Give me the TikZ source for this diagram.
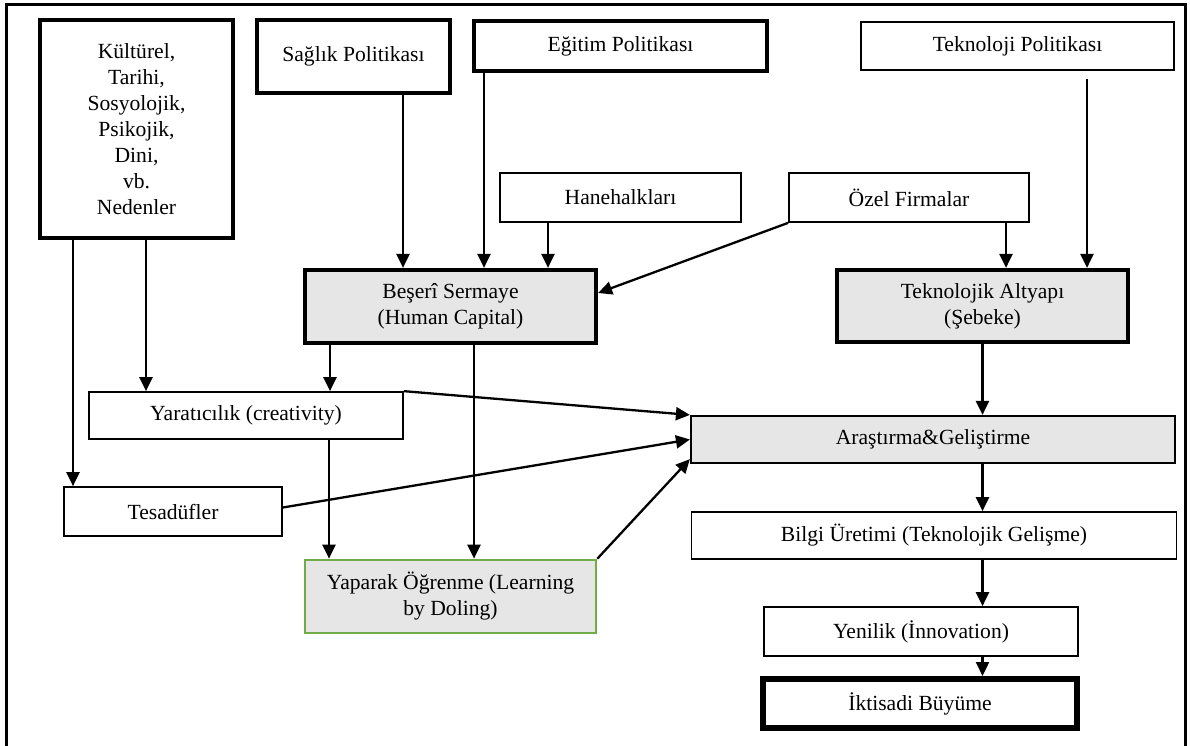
\documentclass[tikz,border=0pt]{standalone}
\usepackage{fontspec}
\setmainfont{Liberation Serif}
\usetikzlibrary{arrows.meta}
\definecolor{boxgray}{RGB}{231,230,230}
\definecolor{boxgreen}{RGB}{112,173,71}
\tikzset{
  box/.style={draw=black, inner sep=0pt, align=center, text=black,
    font=\fontsize{21.6}{26}\selectfont},
  thinbox/.style={box, line width=1.7pt},
  midbox/.style={box, line width=2.7pt},
  thickbox/.style={box, line width=4.2pt},
  heavybox/.style={box, line width=6pt},
  shaded/.style={fill=boxgray},
  arr/.style={line width=2.3pt, -{Triangle[length=14pt,width=13pt]}},
}
\begin{document}
\begin{tikzpicture}[x=1pt, y=-1pt]
\useasboundingbox (0,0) rectangle (1190,746);
% frame
\draw[line width=3pt] (6,760) -- (6,5) -- (1185,5) -- (1185,760);

% nodes
\node[thickbox, minimum width=193pt, minimum height=218pt] (kult) at (136.5,129)
  {Kültürel,\\Tarihi,\\Sosyolojik,\\Psikojik,\\Dini,\\vb.\\Nedenler};
\node[thickbox, minimum width=193pt, minimum height=73pt] (sag) at (353.5,56.5) {Sağlık Politikası};
\node[thickbox, minimum width=293pt, minimum height=50pt] (egi) at (620.5,46) {Eğitim Politikası};
\node[midbox, minimum width=313pt, minimum height=48pt] (tek) at (1017.5,46) {Teknoloji Politikası};
\node[thinbox, minimum width=241pt, minimum height=49pt] (hane) at (620.5,197.5) {Hanehalkları};
\node[thinbox, minimum width=240pt, minimum height=49pt] (ozel) at (909,197.5) {Özel Firmalar};
\node[thickbox, shaded, minimum width=291pt, minimum height=73pt] (bes) at (450.5,306.5)
  {Beşerî Sermaye\\(Human Capital)};
\node[thickbox, shaded, minimum width=291pt, minimum height=72pt] (alt) at (982.5,306)
  {Teknolojik Altyapı\\(Şebeke)};
\node[thinbox, minimum width=314pt, minimum height=47pt] (yar) at (246,415.5) {Yaratıcılık (creativity)};
\node[box, line width=2.2pt, shaded, minimum width=484pt, minimum height=47pt] (arge) at (933,439.5) {Araştırma\&Geliştirme};
\node[thinbox, minimum width=218pt, minimum height=49pt] (tes) at (173,511.5) {Tesadüfler};
\node[thinbox, minimum width=485pt, minimum height=47pt] (bil) at (934,535.5) {Bilgi Üretimi (Teknolojik Gelişme)};
\node[midbox, draw=boxgreen, shaded, minimum width=291pt, minimum height=73pt] (yap) at (450.5,596.5)
  {Yaparak Öğrenme (Learning\\by Doling)};
\node[thinbox, minimum width=314pt, minimum height=49pt] (yen) at (921,631.5) {Yenilik (İnnovation)};
\node[heavybox, minimum width=314pt, minimum height=49pt] (ikt) at (920,703.5) {İktisadi Büyüme};

% vertical connectors
\draw[arr] (sag.south -| 403,0) -- (bes.north -| 403,0);
\draw[arr] (egi.south -| 484,0) -- (bes.north -| 484,0);
\draw[arr] (hane.south -| 548,0) -- (bes.north -| 548,0);
\draw[arr] (ozel.south -| 1006,0) -- (alt.north -| 1006,0);
\draw[arr] ([yshift=-8pt]tek.south -| 1087,0) -- (alt.north -| 1087,0);
\draw[arr] (kult.south -| 73,0) -- (tes.north -| 73,0);
\draw[arr] (kult.south -| 146,0) -- (yar.north -| 146,0);
\draw[arr] (bes.south -| 330,0) -- (yar.north -| 330,0);
\draw[arr] (yar.south -| 329,0) -- (yap.north -| 329,0);
\draw[arr] (bes.south -| 474,0) -- (yap.north -| 474,0);
\draw[arr] (alt.south) -- (arge.north -| alt.south);
\draw[arr] (arge.south -| alt.south) -- (bil.north -| alt.south);
\draw[arr] (bil.south -| alt.south) -- (yen.north -| alt.south);
\draw[arr] (yen.south -| alt.south) -- (ikt.north -| alt.south);

% diagonal connectors
\draw[arr] (ozel.south west) -- ([yshift=13.5pt]bes.east);
\draw[arr] (yar.north east) -- (arge.north west);
\draw[arr] ([yshift=4pt]tes.east) -- (arge.west);
\draw[arr] (yap.north east) -- ([yshift=5pt]arge.south west);
\end{tikzpicture}
\end{document}
